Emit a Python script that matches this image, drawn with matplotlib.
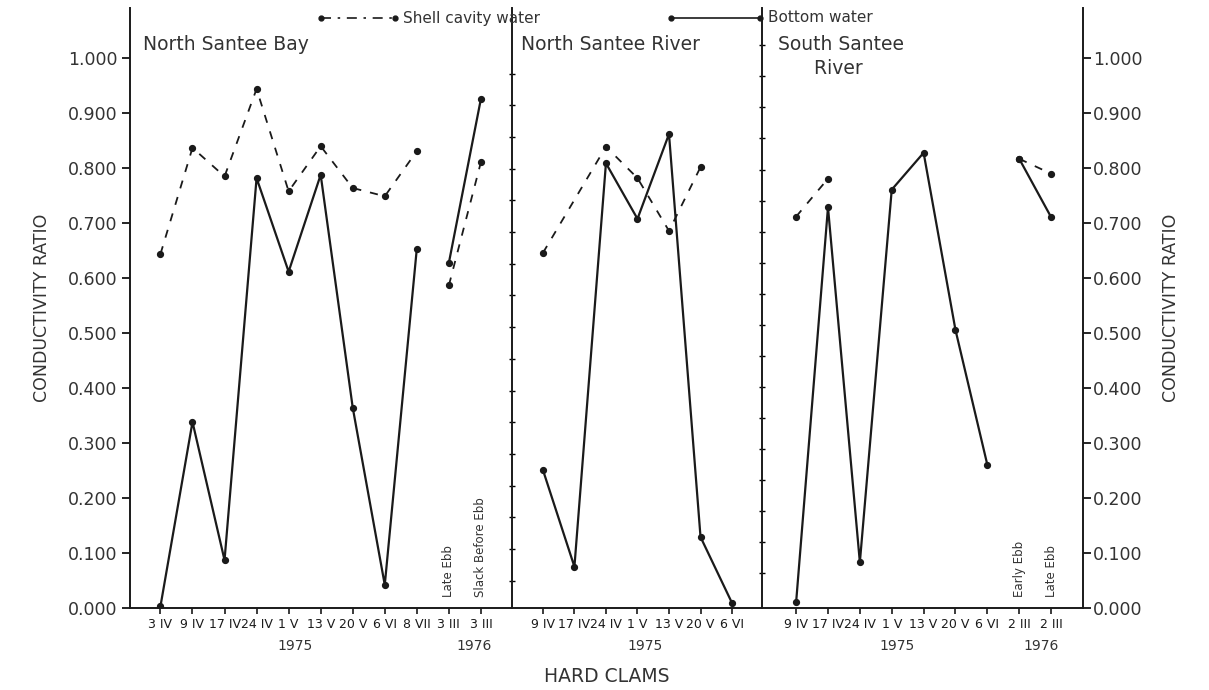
import numpy as np
import matplotlib
matplotlib.use("Agg")
import matplotlib.pyplot as plt
from matplotlib.lines import Line2D

plt.rcParams['font.family'] = ['DejaVu Sans']

nan = np.nan

# North Santee Bay
bay_dates_1975 = ["3 IV", "9 IV", "17 IV", "24 IV", "1 V", "13 V", "20 V", "6 VI", "8 VII"]
bay_shell_1975 = [0.643, 0.836, 0.784, 0.943, 0.757, 0.839, 0.763, 0.748, 0.830]
bay_bottom_1975 = [0.003, 0.338, 0.087, 0.781, 0.611, 0.787, 0.364, 0.042, 0.653]
bay_dates_1976 = ["3 III", "3 III"]
bay_shell_1976 = [0.586, 0.810]
bay_bottom_1976 = [0.627, 0.925]
bay_tides = ["Late Ebb", "Slack Before Ebb"]

# North Santee River
nriv_dates = ["9 IV", "17 IV", "24 IV", "1 V", "13 V", "20 V", "6 VI"]
nriv_shell = [0.645, nan, 0.838, 0.781, 0.685, 0.801, nan]
nriv_bottom = [0.251, 0.075, 0.808, 0.707, 0.861, 0.129, 0.009]

# South Santee River
sriv_dates_1975 = ["9 IV", "17 IV", "24 IV", "1 V", "13 V", "20 V", "6 VI"]
sriv_shell_1975 = [0.711, 0.780, nan, nan, nan, nan, nan]
sriv_bottom_1975 = [0.010, 0.728, 0.083, 0.760, 0.827, 0.505, 0.260]
sriv_dates_1976 = ["2 III", "2 III"]
sriv_shell_1976 = [0.816, 0.789]
sriv_bottom_1976 = [0.816, 0.710]
sriv_tides = ["Early Ebb", "Late Ebb"]

yticks = np.arange(0, 1.01, 0.1)
ink = "#1a1a1a"
txt = "#333333"
dash = (0, (4.5, 5))


def draw(ax, x, shell, bottom):
    x = np.asarray(x, float)
    s = np.asarray(shell, float)
    b = np.asarray(bottom, float)
    m = ~np.isnan(s)
    ax.plot(x[m], s[m], color=ink, lw=1.3, ls=dash, marker='o', ms=4.2)
    m = ~np.isnan(b)
    ax.plot(x[m], b[m], color=ink, lw=1.6, marker='o', ms=4.2)


fig = plt.figure(figsize=(12.09, 6.9), dpi=100)
gs = fig.add_gridspec(1, 3, width_ratios=[382, 250, 321], wspace=0,
                      left=130/1209, right=1083/1209, bottom=1-608/690, top=1-8/690)
ax1 = fig.add_subplot(gs[0])
ax2 = fig.add_subplot(gs[1])
ax3 = fig.add_subplot(gs[2])

n75 = len(bay_dates_1975)
draw(ax1, range(n75), bay_shell_1975, bay_bottom_1975)
draw(ax1, [n75, n75 + 1], bay_shell_1976, bay_bottom_1976)
draw(ax2, range(len(nriv_dates)), nriv_shell, nriv_bottom)
s75 = len(sriv_dates_1975)
draw(ax3, range(s75), sriv_shell_1975, sriv_bottom_1975)
draw(ax3, [s75, s75 + 1], sriv_shell_1976, sriv_bottom_1976)

ax1.set_xlim(-0.95, 10.97)
ax2.set_xlim(-0.98, 6.95)
ax3.set_xlim(-1.07, 9.0)

labels = [bay_dates_1975 + bay_dates_1976, nriv_dates, sriv_dates_1975 + sriv_dates_1976]
for ax, lab in zip([ax1, ax2, ax3], labels):
    ax.set_ylim(0, 1.09)
    ax.set_xticks(range(len(lab)))
    ax.set_xticklabels(lab, fontsize=9, color=txt)
    ax.tick_params(axis='x', direction='out', length=4, width=1.2, pad=3, colors=ink)
    ax.spines['top'].set_visible(False)
    for sp in ax.spines.values():
        sp.set_linewidth(1.4)
        sp.set_color(ink)

# outer scales
ax1.spines['right'].set_visible(False)
ax2.spines['right'].set_visible(False)
ax3.spines['right'].set_visible(False)
ax1.set_yticks(yticks)
ax1.set_yticklabels(["%.3f" % v for v in yticks], fontsize=12.5, color=txt)
ax1.tick_params(axis='y', direction='out', length=6, width=1.2, pad=3)
ax1.set_ylabel("CONDUCTIVITY RATIO", fontsize=12.5, labelpad=12, color=txt)

axr = ax3.twinx()
axr.set_ylim(0, 1.09)
for k in ['top', 'left', 'bottom']:
    axr.spines[k].set_visible(False)
axr.spines['right'].set_linewidth(1.4)
axr.spines['right'].set_color(ink)
axr.set_yticks(yticks)
axr.set_yticklabels(["%.3f" % v for v in yticks], fontsize=12.5, color=txt)
axr.tick_params(axis='y', direction='out', length=6, width=1.2, pad=1)
axr.set_ylabel("CONDUCTIVITY RATIO", fontsize=12.5, labelpad=14, color=txt)

# small ticks on the panel dividers
t2 = 0.971 - 0.0576 * np.arange(17)
t3 = 0.853 + 0.0564 * np.arange(-14, 4)
t3 = t3[(t3 > 0.02) & (t3 < 1.06)]
for ax, t in [(ax2, t2), (ax3, t3)]:
    ax.set_yticks(t)
    ax.set_yticklabels([])
    ax.tick_params(axis='y', direction='inout', length=5, width=1.0)

# panel titles
ax1.text(0.035, 0.955, "North Santee Bay", transform=ax1.transAxes, fontsize=13.5,
         va='top', color=txt)
ax2.text(0.035, 0.955, "North Santee River", transform=ax2.transAxes, fontsize=13.5,
         va='top', color=txt)
ax3.text(0.05, 0.955, "South Santee\n      River", transform=ax3.transAxes, fontsize=13.5,
         va='top', color=txt, linespacing=1.3)

# tide stage notes
for ax, x0, tides in [(ax1, n75, bay_tides), (ax3, s75, sriv_tides)]:
    for i, t in enumerate(tides):
        ax.text(x0 + i, 0.02, t, rotation=90, fontsize=8.5, ha='center', va='bottom',
                color=txt)


# year labels under the dates
def year(ax, x, label):
    ax.annotate(label, xy=(x, 0), xycoords=('data', 'axes fraction'), xytext=(0, -22),
                textcoords='offset points', ha='center', va='top', fontsize=10,
                color=txt, annotation_clip=False)


year(ax1, 4.2, "1975")
year(ax1, 9.8, "1976")
year(ax2, 3.24, "1975")
year(ax3, 3.17, "1975")
year(ax3, 7.7, "1976")

fig.text(607/1209, 1-677/690, "HARD CLAMS", ha='center', va='center', fontsize=13.5,
         color=txt)

# key at the top
ky = 1 - 18/690
fig.add_artist(Line2D([321/1209, 395/1209], [ky, ky], color=ink, lw=1.2,
                      ls=(0, (6, 4, 1.5, 4)), marker='o', ms=3.5))
fig.text(403/1209, ky, "Shell cavity water", va='center', fontsize=11, color=txt)
fig.add_artist(Line2D([671/1209, 760/1209], [ky, ky], color=ink, lw=1.2,
                      marker='o', ms=3.5))
fig.text(768/1209, ky, "Bottom water", va='center', fontsize=11, color=txt)

fig.savefig("out.png", dpi=100)
